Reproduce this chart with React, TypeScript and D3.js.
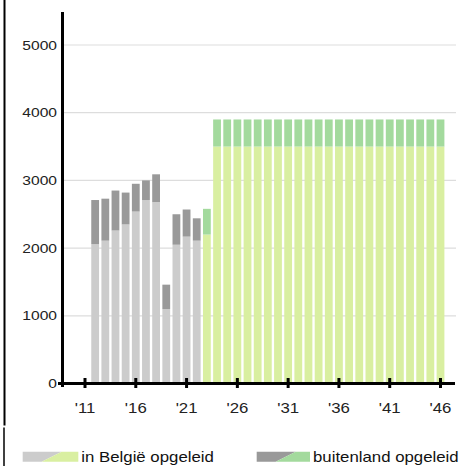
import React from "react";
import * as d3 from "d3";

// Yearly counts, split by where the degree was obtained
const years = [
  2012, 2013, 2014, 2015, 2016, 2017, 2018, 2019, 2020, 2021, 2022, 2023,
  2024, 2025, 2026, 2027, 2028, 2029, 2030, 2031, 2032, 2033, 2034, 2035,
  2036, 2037, 2038, 2039, 2040, 2041, 2042, 2043, 2044, 2045, 2046,
];
const inBelgie = [
  2060, 2110, 2260, 2350, 2540, 2710, 2680, 1100, 2050, 2170, 2110, 2200,
  3500, 3500, 3500, 3500, 3500, 3500, 3500, 3500, 3500, 3500, 3500, 3500,
  3500, 3500, 3500, 3500, 3500, 3500, 3500, 3500, 3500, 3500, 3500,
];
const buitenland = [
  650, 620, 590, 470, 410, 290, 410, 360, 450, 400, 330, 380,
  400, 400, 400, 400, 400, 400, 400, 400, 400, 400, 400, 400,
  400, 400, 400, 400, 400, 400, 400, 400, 400, 400, 400,
];
const firstProjectedYear = 2023;
const xTickYears = [2011, 2016, 2021, 2026, 2031, 2036, 2041, 2046];
const yTicks = [0, 1000, 2000, 3000, 4000, 5000];
const legendLabels = ["in België opgeleid", "buitenland opgeleid"];

const W = 463;
const H = 466;
const FONT = "'Liberation Sans', Arial, sans-serif";
const STRETCH = 1.2;

const colors = {
  belgieHist: "#cccccc",
  buitenHist: "#999999",
  belgieProj: "#d9efa1",
  buitenProj: "#a3da9d",
  grid: "#dddddd",
};

export default function App() {
  const x = d3.scaleLinear().domain([2011, 2046]).range([85, 440.5]);
  const y = d3.scaleLinear().domain([0, 5000]).range([383.5, 45]);
  const barW = 7.8;

  const rows = years.map((yr, i) => ({
    year: yr,
    a: inBelgie[i],
    b: buitenland[i],
    projected: yr >= firstProjectedYear,
  }));

  const legendX = [22.7, 256.7];
  const legendColors = [
    [colors.belgieHist, colors.belgieProj],
    [colors.buitenHist, colors.buitenProj],
  ];

  return (
    <svg
      width={W}
      height={H}
      style={{ position: "absolute", left: 0, top: 0, background: "#fff" }}
    >
      {/* left frame line */}
      <line x1={4.5} x2={4.5} y1={0} y2={425.5} stroke="#000" strokeWidth={2} />
      <line x1={4} x2={4} y1={427.5} y2={H} stroke="#000" strokeWidth={1.5} />

      {/* gridlines */}
      {yTicks.filter((t) => t > 0).map((t) => (
        <line
          key={"g" + t}
          x1={64}
          x2={456}
          y1={y(t)}
          y2={y(t)}
          stroke={colors.grid}
          strokeWidth={1.2}
        />
      ))}

      {/* stacked bars */}
      {rows.map((r) => (
        <g key={r.year}>
          <rect
            x={x(r.year) - barW / 2}
            width={barW}
            y={y(r.a)}
            height={y(0) - y(r.a)}
            fill={r.projected ? colors.belgieProj : colors.belgieHist}
          />
          <rect
            x={x(r.year) - barW / 2}
            width={barW}
            y={y(r.a + r.b)}
            height={y(r.a) - y(r.a + r.b)}
            fill={r.projected ? colors.buitenProj : colors.buitenHist}
          />
        </g>
      ))}

      {/* axes */}
      <line x1={62.5} x2={62.5} y1={12} y2={387} stroke="#000" strokeWidth={3} />
      <line x1={58} x2={455} y1={383.5} y2={383.5} stroke="#000" strokeWidth={3} />
      {xTickYears.map((t) => (
        <line
          key={"t" + t}
          x1={x(t)}
          x2={x(t)}
          y1={378}
          y2={388}
          stroke="#000"
          strokeWidth={3}
        />
      ))}

      {/* y tick labels */}
      {yTicks.map((t) => (
        <g key={"yl" + t} transform={`translate(57,${y(t) + 4.5}) scale(${STRETCH},1)`}>
          <text textAnchor="end" fontFamily={FONT} fontSize={13} fill="#222">
            {t}
          </text>
        </g>
      ))}

      {/* x tick labels */}
      {xTickYears.map((t) => (
        <g key={"xl" + t} transform={`translate(${x(t)},413) scale(${STRETCH},1)`}>
          <text textAnchor="middle" fontFamily={FONT} fontSize={14} fill="#222">
            {"'" + String(t).slice(2)}
          </text>
        </g>
      ))}

      {/* legend */}
      {legendLabels.map((label, i) => {
        const lx = legendX[i];
        const w = i === 0 ? 55.6 : 53.3;
        const top = 451.7;
        const bot = 461.7;
        const [c1, c2] = legendColors[i];
        return (
          <g key={label}>
            <polygon
              points={`${lx},${top} ${lx + 39},${top} ${lx + 19},${bot} ${lx},${bot}`}
              fill={c1}
            />
            <polygon
              points={`${lx + 39},${top} ${lx + w},${top} ${lx + w},${bot} ${lx + 19},${bot}`}
              fill={c2}
            />
            <g transform={`translate(${lx + w + 3},461.5) scale(${STRETCH},1)`}>
              <text fontFamily={FONT} fontSize={14} fill="#111">
                {label}
              </text>
            </g>
          </g>
        );
      })}
    </svg>
  );
}
